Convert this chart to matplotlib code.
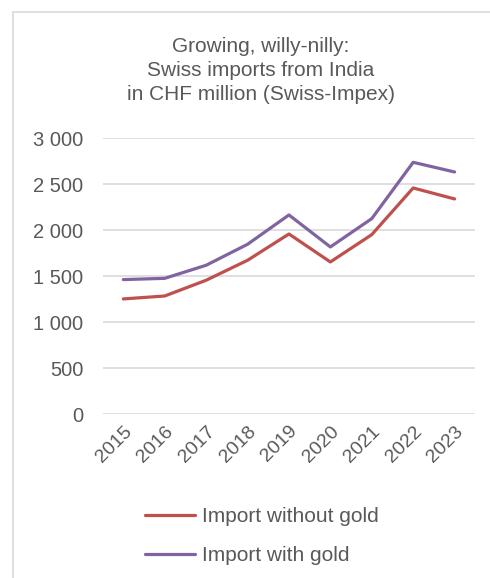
import matplotlib
matplotlib.use("Agg")
import matplotlib.pyplot as plt
from matplotlib.patches import Rectangle

years = ["2015", "2016", "2017", "2018", "2019", "2020", "2021", "2022", "2023"]
without_gold = [1254, 1286, 1457, 1674, 1960, 1656, 1953, 2460, 2341]
with_gold = [1464, 1478, 1620, 1848, 2167, 1819, 2127, 2739, 2634]
yticks = [0, 500, 1000, 1500, 2000, 2500, 3000]
ytick_labels = ["0", "500", "1 000", "1 500", "2 000", "2 500", "3 000"]

plt.rcParams['font.family'] = ['Liberation Sans', 'DejaVu Sans']
TXT = '#595959'
W, H = 490, 578
fig = plt.figure(figsize=(W / 100, H / 100), dpi=100)
fig.patch.set_facecolor('white')

# chart frame
fig.patches.append(Rectangle((13 / W, -0.05), 1.2, 1 - 12 / H + 0.05, transform=fig.transFigure,
                             fill=False, edgecolor='#D9D9D9', linewidth=1.2))

ax = fig.add_axes([102.6 / W, 1 - 414.3 / H, 372.7 / W, 276 / H])
x = list(range(len(years)))
ax.plot(x, without_gold, color='#C0504D', lw=2.3, label='Import without gold', solid_capstyle='round')
ax.plot(x, with_gold, color='#8064A2', lw=2.3, label='Import with gold', solid_capstyle='round')
ax.set_xlim(-0.5, len(years) - 0.5)
ax.set_ylim(0, 3000)
ax.set_yticks(yticks)
ax.set_yticklabels(ytick_labels)
ax.set_xticks(x)
ax.set_xticklabels(years, rotation=45, ha='right', rotation_mode='anchor')
for s in ax.spines.values():
    s.set_visible(False)
ax.yaxis.grid(True, color='#D9D9D9', lw=1.2)
ax.set_axisbelow(True)
ax.tick_params(axis='y', length=0, colors=TXT, labelsize=14.5, pad=14)
ax.tick_params(axis='x', length=0, colors=TXT, labelsize=14, pad=6)

fig.text(260.5 / W, 1 - 37 / H, "Growing, willy-nilly:\nSwiss imports from India\nin CHF million (Swiss-Impex)",
         ha='center', va='top', fontsize=15, color=TXT, linespacing=1.32)

leg = fig.legend(loc='upper left', bbox_to_anchor=(135 / W, 1 - 497 / H), frameon=False,
                 fontsize=15, handlelength=2.4, handletextpad=0.3, labelspacing=0.95, borderpad=0)
for t in leg.get_texts():
    t.set_color(TXT)

fig.savefig('out.png', dpi=100, facecolor='white')
